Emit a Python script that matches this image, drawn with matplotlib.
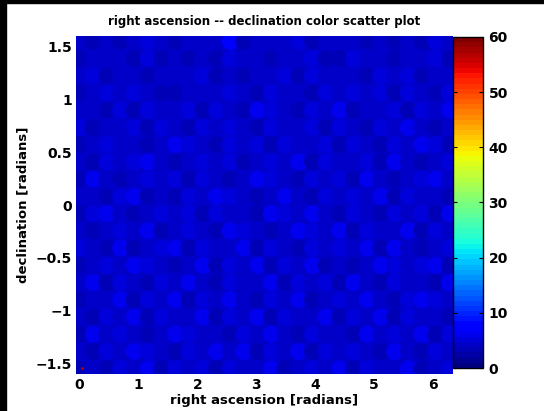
import numpy as np
import matplotlib
matplotlib.use("Agg")
import matplotlib.pyplot as plt
from matplotlib.patches import Rectangle

# value per point, rows from high declination to low, read as colour level (0-60 scale)
rows = [
    "4343454344473444534443434354",
    "3444353434354434453354434453",
    "4534434445343445354443545344",
    "3454543344454354435454535435",
    "4435354453543654354634453546",
    "5344535435454354453543546434",
    "3454434654354535445354354653",
    "4354564345453454635445364345",
    "3643454535434654354536434564",
    "4435634354654346435454635443",
    "3564345453544365464354354536",
    "4345463454365434654635446354",
    "5436345635446354354546364345",
    "3454654346354635463434654563",
    "4635435464354463545364354436",
    "3446354635464354634546435654",
    "4354635446354635446354635443",
    "3645434654435464354436454635",
    "4354654354646354635454364354",
    "3435463545354463454635446345",
]
ra_range = (0.0, 6.28)
dec_range = (-1.55, 1.55)
hot_ra = [0.04]
hot_dec = [-1.54]
hot_val = [57]

ncol = min(len(r) for r in rows)
vals = np.array([[int(c) for c in r[:ncol]] for r in rows], dtype=float)
ra_pts = np.linspace(ra_range[0], ra_range[1], ncol)
dec_pts = np.linspace(dec_range[1], dec_range[0], len(rows))
RA, DEC = np.meshgrid(ra_pts, dec_pts)

fig = plt.figure(figsize=(5.44, 4.11), dpi=100)
fig.patches.append(Rectangle((0, 0), 6 / 544, 1, transform=fig.transFigure,
                             color="black", zorder=-1))
fig.patches.append(Rectangle((0, 1 - 3 / 411), 1, 3 / 411, transform=fig.transFigure,
                             color="black", zorder=-1))

cmap = plt.get_cmap("jet", 64)
ax = fig.add_axes([76 / 544, 37 / 411, 377 / 544, 338 / 411])
ax.set_facecolor(cmap(4 / 60))
sc = ax.scatter(RA.ravel(), DEC.ravel(), c=vals.ravel(), s=150, cmap=cmap,
                vmin=0, vmax=60, marker="o", linewidths=0)
ax.scatter(hot_ra, hot_dec, c=hot_val, s=4, cmap=cmap, vmin=0, vmax=60,
           marker="o", linewidths=0)
ax.set_xlim(-0.06, 6.34)
ax.set_ylim(-1.6, 1.6)
ax.set_xticks(range(7))
ax.set_yticks([-1.5, -1, -0.5, 0, 0.5, 1, 1.5])
ax.set_yticklabels(["\u22121.5", "\u22121", "\u22120.5", "0", "0.5", "1", "1.5"])
for s in ax.spines.values():
    s.set_visible(False)
ax.tick_params(length=0, pad=3, labelsize=10)
for lab in ax.get_xticklabels() + ax.get_yticklabels():
    lab.set_fontweight("bold")

ax.set_title("right ascension -- declination color scatter plot",
             fontsize=8.5, fontweight="bold", pad=8)
ax.set_xlabel("right ascension [radians]", fontsize=9.5, fontweight="bold", labelpad=1)
ax.set_ylabel("declination [radians]", fontsize=9.5, fontweight="bold", labelpad=4)

cax = fig.add_axes([453 / 544, 43 / 411, 30 / 544, 331 / 411])
cb = fig.colorbar(sc, cax=cax, ticks=range(0, 61, 10))
cb.outline.set_linewidth(1.0)
cax.tick_params(direction="in", length=3, width=0.8, left=True, right=True,
                labelsize=10, pad=4)
for lab in cax.get_yticklabels():
    lab.set_fontweight("bold")

fig.savefig("out.png", dpi=100)
